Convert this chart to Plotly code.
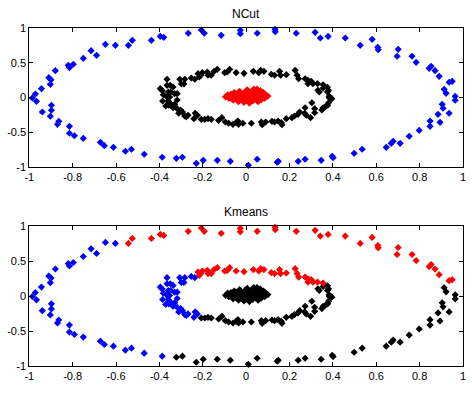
import plotly.graph_objects as go

# ---------------- data ----------------
# outer ring points and their K-means cluster ('b','r','k')
outer_x = [-0.986, -0.972, -0.944, -0.91, -0.90, -0.903, -0.88, -0.82, -0.815, -0.797,
           -0.751, -0.715, -0.69, -0.649, -0.603, -0.543, -0.525, -0.437, -0.396, -0.38,
           -0.267, -0.207, -0.193, -0.115, -0.027, -0.027, 0.051, 0.133, 0.134, 0.231,
           0.318, 0.342, 0.378, 0.457, 0.526, 0.581, 0.607, 0.609, 0.701, 0.696,
           0.765, 0.784, 0.844, 0.853, 0.871, 0.89, 0.913, 0.922, 0.936, 0.95,
           0.964, -0.967, -0.94, -0.898, -0.898, -0.903, -0.864, -0.87, -0.815, -0.815,
           -0.792, -0.751, -0.672, -0.654, -0.612, -0.557, -0.529, -0.47, -0.387, -0.322,
           -0.294, -0.23, -0.198, -0.133, -0.073, 0.01, 0.051, 0.143, 0.148, 0.24,
           0.272, 0.346, 0.397, 0.401, 0.498, 0.535, 0.646, 0.669, 0.678, 0.71,
           0.752, 0.798, 0.848, 0.848, 0.894, 0.885, 0.904, 0.908, 0.936, 0.964]
outer_y = [-0.007, 0.05, 0.127, 0.285, 0.256, 0.19, 0.386, 0.463, 0.43, 0.478,
           0.564, 0.674, 0.607, 0.765, 0.751, 0.751, 0.823, 0.823, 0.88, 0.866,
           0.924, 0.971, 0.924, 0.895, 0.967, 0.918, 0.924, 0.981, 0.947, 0.924,
           0.938, 0.856, 0.88, 0.856, 0.751, 0.837, 0.722, 0.688, 0.693, 0.593,
           0.593, 0.506, 0.42, 0.449, 0.386, 0.305, 0.118, 0.06, 0.219, 0.233,
           0.017, -0.055, -0.209, -0.112, -0.184, -0.27, -0.343, -0.386, -0.415, -0.515,
           -0.55, -0.587, -0.645, -0.693, -0.717, -0.774, -0.745, -0.817, -0.86, -0.875,
           -0.86, -0.947, -0.904, -0.904, -0.918, -0.976, -0.889, -0.932, -0.918, -0.918,
           -0.889, -0.904, -0.846, -0.866, -0.803, -0.745, -0.717, -0.659, -0.63, -0.659,
           -0.558, -0.472, -0.415, -0.338, -0.357, -0.242, -0.098, -0.155, -0.227, -0.04]
outer_km = (list("bbbbbbbbbbbbbbb") + list("rrrrrrrrrrrrrrrrrrrrrrrrrrrrrrr")
            + list("kk") + list("rr") + list("k")
            + list("bbbbbbbbbbbbbbbbbb")
            + list("kkkkkkkkkkkkkkkkkkkkkkkkkkkkkkk"))

# middle ring points and their K-means cluster
mid_x = [-0.396, -0.387, -0.365, -0.365, -0.35, -0.359, -0.382, -0.365, -0.337, -0.348,
         -0.33, -0.318, -0.306, -0.299, -0.287, -0.283, -0.253, -0.237,
         -0.222, -0.21, -0.216, -0.202, -0.179, -0.176, -0.161, -0.148, -0.133, -0.099,
         -0.087, -0.076, -0.046, -0.01, 0.033, 0.058, 0.067, 0.082, 0.116, 0.131,
         0.154, 0.159, 0.185, 0.226, 0.235, 0.242, 0.272, 0.285, 0.3, 0.308,
         0.285, 0.329, 0.355,
         0.331, 0.337, 0.355, 0.375, 0.375, 0.38, 0.383, 0.391, 0.395,
         -0.385, -0.359, -0.371, -0.356, -0.353, -0.356, -0.345, -0.337, -0.33, -0.318,
         -0.318, -0.302, -0.294, -0.311, -0.283, -0.276, -0.268, -0.241, -0.235, -0.225,
         -0.207, -0.191, -0.176, -0.161, -0.127, -0.112, -0.096, -0.081, -0.061, -0.046,
         -0.038, -0.035, -0.015, 0.024, 0.07, 0.074, 0.09, 0.119, 0.131, 0.147,
         0.162, 0.165, 0.185, 0.211, 0.223, 0.239, 0.247, 0.27, 0.272, 0.277,
         0.297, 0.303, 0.316, 0.316, 0.349, 0.355, 0.365, 0.376, 0.38, 0.383]
mid_y = [0.127, 0.10, 0.262, 0.175, 0.175, 0.079, 0.04, 0.01, 0.151, 0.079,
         0.055, 0.055, 0.262, 0.194, 0.194, 0.262, 0.28, 0.262,
         0.343, 0.32, 0.295, 0.357, 0.367, 0.32, 0.32, 0.377, 0.405, 0.357,
         0.367, 0.405, 0.357, 0.348, 0.377, 0.357, 0.391, 0.377, 0.334, 0.32,
         0.377, 0.32, 0.328, 0.391, 0.32, 0.27, 0.27, 0.247, 0.233, 0.199,
         0.199, 0.199, 0.184,
         0.104, 0.079, 0.137, 0.147, 0.079, 0.104, 0.017, -0.007, -0.017,
         -0.05, -0.05, -0.122, -0.112, 0.007, -0.075, -0.098, -0.147, -0.098, -0.036,
         -0.161, -0.18, -0.209, -0.227, -0.266, -0.276, -0.256, -0.305, -0.227, -0.256,
         -0.314, -0.314, -0.305, -0.314, -0.328, -0.29, -0.352, -0.371, -0.386, -0.362,
         -0.338, -0.386, -0.371, -0.371, -0.352, -0.391, -0.352, -0.343, -0.352, -0.338,
         -0.362, -0.391, -0.305, -0.29, -0.266, -0.242, -0.209, -0.227, -0.147, -0.256,
         -0.29, -0.075, -0.161, -0.219, -0.18, -0.147, -0.132, -0.112, -0.075, -0.003]
mid_km = (list("bbbbbbbbbbbbbbbbbb") + list("r" * 33) + list("k" * 9)
          + list("b" * 20) + list("k" * 40))

# inner cluster points (K-means cluster 'k' for all)
inner_x = [-0.095, -0.085, -0.08, -0.07, -0.065, -0.06, -0.055, -0.05, -0.045, -0.04,
           -0.035, -0.03, -0.03, -0.025, -0.02, -0.015, -0.01, -0.005, 0.0, 0.0,
           0.005, 0.01, 0.012, 0.015, 0.02, 0.025, 0.03, 0.035, 0.04, 0.04,
           0.045, 0.05, 0.055, 0.06, 0.065, 0.07, 0.075, 0.08, 0.085, 0.09,
           0.1, -0.075, -0.02, 0.03, 0.05, -0.01, 0.02, -0.05, 0.06, 0.05]
inner_y = [0.01, 0.04, -0.01, 0.05, 0.0, -0.04, 0.07, 0.02, -0.02, 0.06,
           -0.06, 0.03, 0.09, -0.03, 0.0, 0.05, -0.07, 0.08, 0.02, -0.04,
           0.11, 0.05, -0.01, -0.08, 0.07, 0.02, -0.05, 0.12, 0.04, -0.02,
           0.08, 0.0, -0.06, 0.05, 0.1, -0.03, 0.02, 0.07, -0.01, 0.04,
           0.02, 0.02, 0.04, 0.0, 0.03, -0.02, -0.03, 0.04, -0.01, 0.12]

titles = ["NCut", "Kmeans"]
x_ticks = [-1, -0.8, -0.6, -0.4, -0.2, 0, 0.2, 0.4, 0.6, 0.8, 1]
x_tick_text = ["-1", "-0.8", "-0.6", "-0.4", "-0.2", "0", "0.2", "0.4", "0.6", "0.8", "1"]
y_ticks = [-1, -0.5, 0, 0.5, 1]
y_tick_text = ["-1", "-0.5", "0", "0.5", "1"]

COLORS = {"b": "#0000FF", "r": "#FF0000", "k": "#000000"}

fig = go.Figure()

def add_pts(xs, ys, color, xa, ya):
    fig.add_trace(go.Scatter(
        x=xs, y=ys, mode="markers", xaxis=xa, yaxis=ya, showlegend=False,
        cliponaxis=False, hoverinfo="skip",
        marker=dict(symbol="diamond", size=5.5, color=color, line=dict(width=0))))

# NCut: outer blue, middle black, inner red
add_pts(outer_x, outer_y, COLORS["b"], "x", "y")
add_pts(mid_x, mid_y, COLORS["k"], "x", "y")
add_pts(inner_x, inner_y, COLORS["r"], "x", "y")

# Kmeans
all_x = outer_x + mid_x + inner_x
all_y = outer_y + mid_y + inner_y
all_km = outer_km + mid_km + ["k"] * len(inner_x)
for lab in ["b", "k", "r"]:
    xs = [x for x, l in zip(all_x, all_km) if l == lab]
    ys = [y for y, l in zip(all_y, all_km) if l == lab]
    add_pts(xs, ys, COLORS[lab], "x2", "y2")

W, H = 472, 394
xdom = [29.3 / W, 463 / W]
top_dom = [(H - 167) / H, (H - 28) / H]
bot_dom = [(H - 366) / H, (H - 226) / H]

axis_common = dict(showline=True, linecolor="black", linewidth=1, mirror="ticks",
                   ticks="inside", ticklen=4, tickwidth=1, tickcolor="black",
                   showgrid=False, zeroline=False, automargin=False,
                   tickfont=dict(family="Liberation Sans, Arial, sans-serif", size=11, color="black"))

fig.update_layout(
    width=W, height=H,
    margin=dict(l=0, r=0, t=0, b=0),
    paper_bgcolor="white", plot_bgcolor="white",
    hovermode=False,
    xaxis=dict(domain=xdom, range=[-1, 1], tickvals=x_ticks, ticktext=x_tick_text,
               anchor="y", **axis_common),
    yaxis=dict(domain=top_dom, range=[-1, 1], tickvals=y_ticks, ticktext=y_tick_text,
               anchor="x", **axis_common),
    xaxis2=dict(domain=xdom, range=[-1, 1], tickvals=x_ticks, ticktext=x_tick_text,
                anchor="y2", **axis_common),
    yaxis2=dict(domain=bot_dom, range=[-1, 1], tickvals=y_ticks, ticktext=y_tick_text,
                anchor="x2", **axis_common),
    annotations=[
        dict(text=titles[0], x=0.5 * (xdom[0] + xdom[1]), y=top_dom[1], xref="paper", yref="paper",
             xanchor="center", yanchor="bottom", yshift=5, showarrow=False,
             font=dict(family="Liberation Sans, Arial, sans-serif", size=12, color="black")),
        dict(text=titles[1], x=0.5 * (xdom[0] + xdom[1]), y=bot_dom[1], xref="paper", yref="paper",
             xanchor="center", yanchor="bottom", yshift=5, showarrow=False,
             font=dict(family="Liberation Sans, Arial, sans-serif", size=12, color="black")),
    ],
)

fig.write_html("out.html", config={"displayModeBar": False},
               post_script="document.body.style.margin='0';document.body.style.overflow='hidden';")
